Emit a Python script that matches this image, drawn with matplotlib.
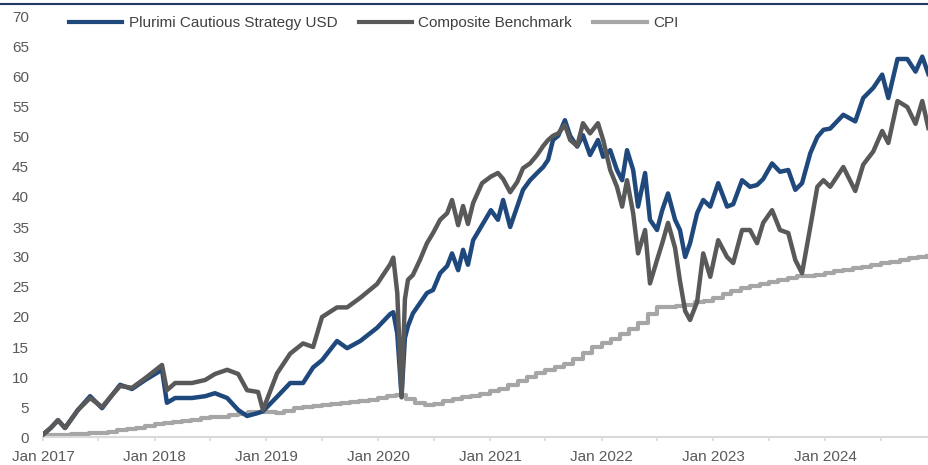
import numpy as np
import pandas as pd
import matplotlib
matplotlib.use('Agg')
from matplotlib import pyplot as plt
import matplotlib.dates as mdates
from matplotlib.lines import Line2D

plt.rcParams['font.family'] = ['Liberation Sans', 'DejaVu Sans']

# cumulative performance (%)
dates = ['2017-01-03', '2017-01-26', '2017-02-19', '2017-03-14', '2017-04-25', '2017-06-04',
         '2017-07-13', '2017-08-15', '2017-09-10', '2017-10-19', '2017-12-01', '2018-01-25',
         '2018-02-10', '2018-03-09', '2018-05-03', '2018-06-15', '2018-07-17', '2018-08-26',
         '2018-10-01', '2018-10-30', '2018-12-05', '2018-12-21', '2019-02-05', '2019-03-20',
         '2019-05-01', '2019-06-03', '2019-07-02', '2019-08-20', '2019-09-22', '2019-11-04',
         '2019-12-29', '2020-02-10', '2020-02-20', '2020-03-04', '2020-03-18', '2020-03-29',
         '2020-04-08', '2020-04-24', '2020-05-17', '2020-06-09', '2020-06-29', '2020-07-22',
         '2020-08-14', '2020-08-30', '2020-09-19', '2020-10-05', '2020-10-21', '2020-11-07',
         '2020-12-06', '2021-01-04', '2021-01-27', '2021-02-13', '2021-03-08', '2021-03-31',
         '2021-04-19', '2021-05-12', '2021-06-04', '2021-06-24', '2021-07-10', '2021-07-26',
         '2021-08-12', '2021-09-03', '2021-09-20', '2021-10-13', '2021-11-01', '2021-11-24',
         '2021-12-20', '2022-01-06', '2022-01-29', '2022-02-20', '2022-03-09', '2022-03-25',
         '2022-04-14', '2022-04-30', '2022-05-23', '2022-06-08', '2022-07-01', '2022-07-18',
         '2022-08-06', '2022-08-29', '2022-09-14', '2022-10-01', '2022-10-17', '2022-11-09',
         '2022-11-29', '2022-12-22', '2023-01-17', '2023-02-15', '2023-03-07', '2023-04-05',
         '2023-05-01', '2023-05-24', '2023-06-13', '2023-07-12', '2023-08-07', '2023-09-03',
         '2023-09-26', '2023-10-18', '2023-11-14', '2023-12-07', '2023-12-27', '2024-01-18',
         '2024-03-01', '2024-04-09', '2024-05-05', '2024-06-07', '2024-07-06', '2024-07-26',
         '2024-08-25', '2024-09-26', '2024-10-23', '2024-11-14', '2024-12-04']

plurimi = [0.5, 1.5, 2.8, 1.5, 4.5, 6.8,
           4.8, 7.0, 8.7, 8.0, 9.5, 11.2,
           5.7, 6.5, 6.5, 6.8, 7.3, 6.5,
           4.5, 3.5, 4.0, 4.3, 6.7, 9.0,
           9.0, 11.6, 12.8, 16.0, 14.8, 16.0,
           18.2, 20.5, 20.8, 17.2, 6.8, 16.5,
           18.5, 20.6, 22.3, 24.0, 24.5, 27.3,
           28.5, 30.6, 27.8, 31.2, 28.7, 32.8,
           35.3, 37.8, 36.2, 39.5, 35.0, 38.4,
           41.2, 42.8, 44.0, 45.0, 46.2, 49.5,
           50.2, 52.8, 50.2, 48.4, 50.3, 47.0,
           49.5, 46.7, 47.8, 44.5, 42.8, 47.8,
           44.5, 38.4, 44.0, 36.2, 34.5, 37.8,
           40.6, 36.2, 34.5, 30.0, 32.3, 37.3,
           39.5, 38.4, 42.3, 38.4, 38.8, 42.8,
           41.7, 42.0, 43.0, 45.6, 44.2, 44.5,
           41.2, 42.3, 47.3, 50.0, 51.2, 51.4,
           53.7, 52.6, 56.5, 58.2, 60.4, 56.5,
           63.0, 63.0, 60.9, 63.4, 60.5]

benchmark = [0.5, 1.5, 2.8, 1.5, 4.5, 6.5,
             5.0, 7.0, 8.5, 8.2, 9.8, 12.0,
             7.8, 9.0, 9.0, 9.5, 10.5, 11.2,
             10.5, 7.8, 7.5, 4.5, 10.6, 13.9,
             15.6, 15.0, 20.0, 21.6, 21.6, 23.2,
             25.5, 28.8, 29.9, 24.0, 6.6, 23.0,
             26.2, 27.0, 29.5, 32.3, 34.0, 36.2,
             37.3, 39.5, 35.3, 38.5, 35.5, 39.0,
             42.3, 43.4, 44.0, 43.0, 40.8, 42.5,
             44.8, 45.6, 47.0, 48.5, 49.5, 50.2,
             50.6, 52.0, 49.5, 48.5, 52.3, 50.6,
             52.3, 49.5, 44.5, 41.7, 38.4, 42.8,
             37.3, 30.6, 34.5, 25.6, 29.5, 32.3,
             35.7, 31.5, 26.0, 21.0, 19.5, 22.5,
             30.6, 26.7, 32.8, 30.0, 29.0, 34.5,
             34.5, 32.3, 35.7, 37.8, 34.5, 34.0,
             29.5, 27.3, 35.0, 41.7, 42.8, 41.7,
             45.0, 41.0, 45.4, 47.6, 51.0, 49.0,
             56.0, 55.0, 52.2, 56.0, 51.5]

cpi_dates = pd.date_range('2017-01-01', periods=96, freq='MS')
cpi = [0.3, 0.4, 0.4, 0.5, 0.5, 0.6, 0.7, 0.9, 1.1, 1.3, 1.5, 1.8,
       2.1, 2.3, 2.5, 2.7, 2.9, 3.1, 3.3, 3.4, 3.6, 3.8, 4.1, 4.2,
       4.2, 4.0, 4.3, 4.8, 5.0, 5.2, 5.3, 5.5, 5.6, 5.8, 6.0, 6.2,
       6.5, 6.8, 7.0, 6.4, 5.6, 5.3, 5.5, 6.0, 6.4, 6.6, 6.8, 7.2,
       7.6, 8.0, 8.6, 9.3, 10.0, 10.7, 11.2, 11.6, 12.2, 13.0, 14.0, 15.0,
       15.6, 16.3, 17.2, 18.0, 19.0, 20.5, 21.6, 21.6, 21.8, 22.0, 22.5, 22.6,
       23.2, 23.8, 24.3, 24.8, 25.2, 25.5, 25.8, 26.2, 26.5, 26.8, 26.9, 27.0,
       27.3, 27.6, 27.8, 28.1, 28.3, 28.7, 29.0, 29.2, 29.5, 29.8, 30.0, 30.1]

labels = ['Plurimi Cautious Strategy USD', 'Composite Benchmark', 'CPI']
colors = ['#1F497D', '#595959', '#A6A6A6']

dates = pd.to_datetime(dates)

fig = plt.figure(figsize=(9.29, 4.65), dpi=100)
ax = fig.add_axes([43 / 929, 28 / 465, 886 / 929, 420 / 465])

ax.plot(cpi_dates, cpi, color=colors[2], lw=3, drawstyle='steps-post', zorder=2)
ax.plot(dates, plurimi, color=colors[0], lw=3.2, zorder=3)
ax.plot(dates, benchmark, color=colors[1], lw=3.2, zorder=4)

ax.set_xlim(pd.Timestamp('2017-01-01'), pd.Timestamp('2024-12-06'))
ax.set_ylim(0, 70)
ax.set_yticks(np.arange(0, 71, 5))

ax.xaxis.set_major_locator(mdates.YearLocator())
ax.xaxis.set_major_formatter(mdates.DateFormatter('Jan %Y'))
ax.xaxis.set_minor_locator(mdates.MonthLocator(bymonth=7))

for s in ['top', 'right', 'left']:
    ax.spines[s].set_visible(False)
ax.spines['bottom'].set_color('#D9D9D9')
ax.spines['bottom'].set_linewidth(1.5)

ax.tick_params(axis='y', length=0, pad=10, labelsize=11, labelcolor='#595959')
ax.tick_params(axis='x', which='both', length=3, width=1.2, color='#D9D9D9',
               pad=6, labelsize=11, labelcolor='#595959')

handles = [Line2D([], [], color=c, lw=3) for c in colors]
fig.legend(handles, labels, loc='center left', bbox_to_anchor=(69 / 929, 1 - 23 / 465),
           ncol=3, frameon=False, fontsize=11, handlelength=3.5, handletextpad=0.4,
           columnspacing=1.4, borderpad=0, borderaxespad=0, labelcolor='#404040')

# dark rule across the top
fig.add_artist(Line2D([0, 1], [1 - 4 / 465, 1 - 4 / 465], transform=fig.transFigure,
                      color='#1F3864', lw=1.5))

plt.savefig('out.png', dpi=100)
